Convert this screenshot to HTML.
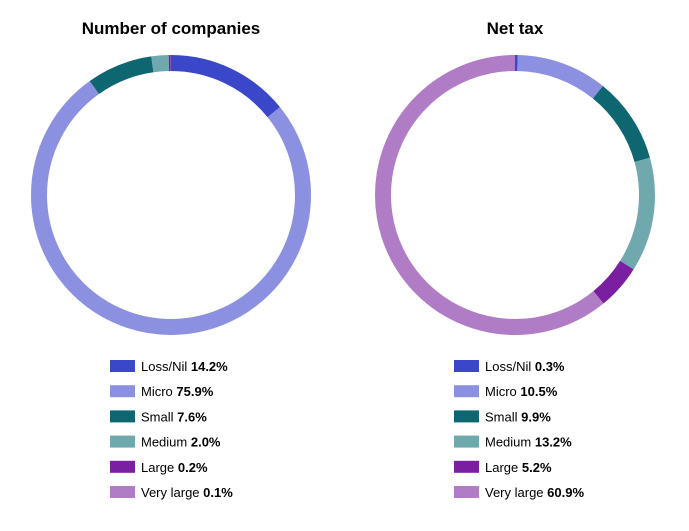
<!DOCTYPE html>
<html><head><meta charset="utf-8"><style>
body{margin:0;background:#fff;width:689px;height:526px;overflow:hidden;font-family:"Liberation Sans",sans-serif}
</style></head><body>
<svg id="s" width="689" height="526" xmlns="http://www.w3.org/2000/svg" font-family="Liberation Sans, sans-serif">
<text x="171" y="34" text-anchor="middle" font-size="17" font-weight="bold" fill="#000">Number of companies</text>
<text x="515" y="34" text-anchor="middle" font-size="17" font-weight="bold" fill="#000">Net tax</text>
</svg>
<script>
const colors=["#3b47c9","#8b91e0","#0e6670","#6fa9ae","#7a1fa0","#b07cc6"];
const names=["Loss/Nil","Micro","Small","Medium","Large","Very large"];
const charts=[{cx:171,lx:110,v:[14.2,75.9,7.6,2.0,0.2,0.1]},{cx:515,lx:454,v:[0.3,10.5,9.9,13.2,5.2,60.9]}];
const s=document.getElementById('s');const ns="http://www.w3.org/2000/svg";
function el(t,a,txt){const e=document.createElementNS(ns,t);for(const k in a)e.setAttribute(k,a[k]);if(txt)e.textContent=txt;s.appendChild(e);return e;}
charts.forEach(c=>{
 const r=132,C=2*Math.PI*r,tot=c.v.reduce((a,b)=>a+b,0);let off=0;
 c.v.forEach((v,i)=>{const L=v/tot*C;
  el('circle',{cx:c.cx,cy:195,r:r,fill:'none',stroke:colors[i],'stroke-width':16,'stroke-dasharray':L+' '+(C-L),'stroke-dashoffset':-off,transform:`rotate(-90 ${c.cx} 195)`});
  off+=L;
  const y=360+i*25.2;
  el('rect',{x:c.lx,y:y,width:25,height:12,fill:colors[i]});
  const t=el('text',{x:c.lx+31,y:y+11,'font-size':13,fill:'#000'});
  t.appendChild(document.createTextNode(names[i]+' '));
  const b=document.createElementNS(ns,'tspan');b.setAttribute('font-weight','bold');b.textContent=v.toFixed(1)+'%';t.appendChild(b);
 });
});
</script>
</body></html>
